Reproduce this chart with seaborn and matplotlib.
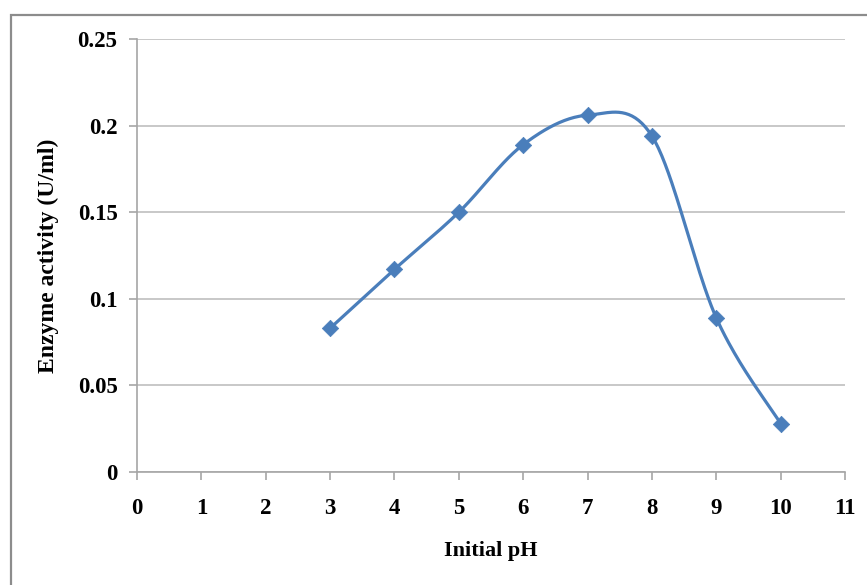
import numpy as np
import pandas as pd
import matplotlib
matplotlib.use("Agg")
import matplotlib.pyplot as plt
import seaborn as sns
from matplotlib.patches import Rectangle

ph = [3, 4, 5, 6, 7, 8, 9, 10]
activity = [0.083, 0.117, 0.150, 0.189, 0.206, 0.194, 0.089, 0.028]
y_ticks = [0, 0.05, 0.1, 0.15, 0.2, 0.25]
y_tick_labels = ["0", "0.05", "0.1", "0.15", "0.2", "0.25"]
x_ticks = list(range(0, 12))

df = pd.DataFrame({"Initial pH": ph, "Enzyme activity (U/ml)": activity})

sns.set_theme(style="white")
plt.rcParams["font.family"] = ["Liberation Serif", "DejaVu Serif"]
plt.rcParams["text.color"] = "black"
plt.rcParams["axes.labelcolor"] = "black"
plt.rcParams["xtick.labelcolor"] = "black"
plt.rcParams["ytick.labelcolor"] = "black"

fig = plt.figure(figsize=(8.67, 5.85), dpi=100)
ax = fig.add_axes([137 / 867, 1 - 472 / 585, (845 - 137) / 867, (472 - 39) / 585])

# Excel-like smoothed curve (Catmull-Rom style bezier)
def smooth(xs, ys, n=40):
    pts = np.column_stack([xs, ys]).astype(float)
    out = []
    for i in range(len(pts) - 1):
        p0 = pts[i - 1] if i > 0 else pts[i]
        p1 = pts[i]
        p2 = pts[i + 1]
        p3 = pts[i + 2] if i + 2 < len(pts) else pts[i + 1]
        c1 = p1 + (p2 - p0) / 6.0
        c2 = p2 - (p3 - p1) / 6.0
        t = np.linspace(0, 1, n)[:, None]
        seg = ((1 - t) ** 3) * p1 + 3 * ((1 - t) ** 2) * t * c1 + 3 * (1 - t) * t ** 2 * c2 + t ** 3 * p2
        out.append(seg if i == 0 else seg[1:])
    s = np.vstack(out)
    return s[:, 0], s[:, 1]

sx, sy = smooth(np.array(ph), np.array(activity))
color = "#4A7EBB"
sns.lineplot(x=sx, y=sy, ax=ax, color=color, linewidth=2.3, sort=False, zorder=3)
sns.scatterplot(data=df, x="Initial pH", y="Enzyme activity (U/ml)", ax=ax, marker="D",
                s=70, color=color, edgecolor=color, linewidth=0.5, zorder=4)

ax.set_xlim(0, 11)
ax.set_ylim(0, 0.25)
ax.set_xticks(x_ticks)
ax.set_xticklabels([str(v) for v in x_ticks])
ax.set_yticks(y_ticks)
ax.set_yticklabels(y_tick_labels)
ax.yaxis.grid(True, color="#BFBFBF", linewidth=1.2)
ax.xaxis.grid(False)
for side in ["top", "right"]:
    ax.spines[side].set_visible(False)
for side in ["left", "bottom"]:
    ax.spines[side].set_color("#A6A6A6")
    ax.spines[side].set_linewidth(1.2)
ax.tick_params(axis="both", which="major", direction="out", length=6, width=1.2,
               color="#A6A6A6", labelsize=16.5, labelcolor="black")
ax.tick_params(axis="x", bottom=True, pad=13)
ax.tick_params(axis="y", left=True, pad=8)
for lab in ax.get_xticklabels() + ax.get_yticklabels():
    lab.set_fontweight("bold")
ax.set_xlabel("Initial pH", fontsize=16, fontweight="bold", va="center", ha="center", color="black")
ax.set_ylabel("Enzyme activity (U/ml)", fontsize=17, fontweight="bold", va="center", ha="center", color="black")
ax.xaxis.set_label_coords(0.5, (472 - 551) / 433)
ax.yaxis.set_label_coords((48 - 137) / 708, 0.5)

fig.patches.append(Rectangle((11 / 867, -0.1), 1.2, 1 - 15 / 585 + 0.1, transform=fig.transFigure,
                             fill=False, edgecolor="#8C8C8C", linewidth=1.6, zorder=0))

fig.savefig("out.png", dpi=100)
